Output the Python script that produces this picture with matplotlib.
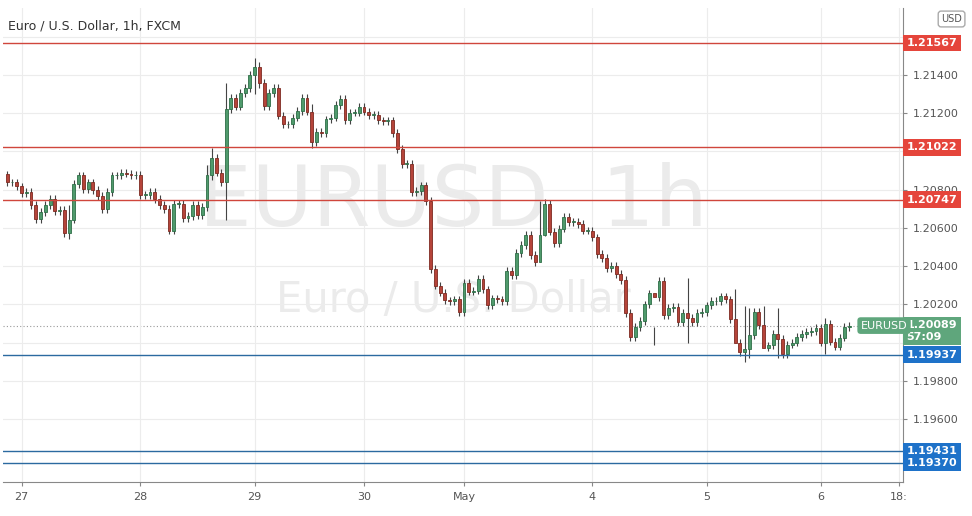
import matplotlib.pyplot as plt
import numpy as np

# hourly closes, EUR/USD
closes = [
    1.20838, 1.20838, 1.20817, 1.20781, 1.20786, 1.20720, 1.20648, 1.20684, 1.20720, 1.20750,
    1.20689, 1.20694, 1.20571, 1.20643, 1.20828, 1.20874, 1.20802, 1.20838, 1.20797, 1.20766,
    1.20699, 1.20786, 1.20874, 1.20874, 1.20889, 1.20884, 1.20874, 1.20879, 1.20771, 1.20771,
    1.20786, 1.20750, 1.20720, 1.20699, 1.20586, 1.20725, 1.20725, 1.20653, 1.20663, 1.20720,
    1.20668, 1.20709, 1.20874, 1.20966, 1.20889, 1.20838, 1.21223, 1.21280, 1.21234,
    1.21306, 1.21331, 1.21398, 1.21444, 1.21357, 1.21239, 1.21306, 1.21331, 1.21187, 1.21141,
    1.21141, 1.21177, 1.21213, 1.21280, 1.21208, 1.21049, 1.21100, 1.21095, 1.21167, 1.21177,
    1.21244, 1.21275, 1.21162, 1.21203, 1.21203, 1.21234, 1.21208, 1.21192, 1.21192, 1.21162,
    1.21157, 1.21162, 1.21095, 1.21013, 1.20935, 1.20935, 1.20786, 1.20792, 1.20822, 1.20740,
    1.20386, 1.20298, 1.20262, 1.20221, 1.20216, 1.20226,
    1.20159, 1.20314, 1.20267, 1.20272, 1.20334, 1.20278, 1.20195, 1.20231, 1.20226, 1.20216,
    1.20375, 1.20355, 1.20468, 1.20509, 1.20565, 1.20457, 1.20421, 1.20565, 1.20725, 1.20581,
    1.20519, 1.20596, 1.20658, 1.20632, 1.20632, 1.20622, 1.20586, 1.20586, 1.20550, 1.20463,
    1.20442, 1.20391, 1.20401, 1.20360, 1.20329, 1.20154, 1.20031, 1.20082, 1.20113, 1.20200,
    1.20257, 1.20236, 1.20324, 1.20144, 1.20180, 1.20185, 1.20108,
    1.20154, 1.20129, 1.20108, 1.20154, 1.20159, 1.20195, 1.20216, 1.20216, 1.20242, 1.20226,
    1.20123, 1.20000, 1.19949, 1.19969, 1.20041, 1.20159, 1.20093, 1.19974, 1.19985, 1.20046,
    1.20021, 1.19938, 1.19990, 1.20000, 1.20031, 1.20046, 1.20057, 1.20062, 1.20077, 1.20000,
    1.20098, 1.20005, 1.19979, 1.20026, 1.20082, 1.20089,
]
first_open = 1.20880
# notable long wicks: index -> (high, low)
long_wicks = {
    13: (1.20720, 1.20540), 42: (1.20930, 1.20690), 43: (1.21020, 1.20850),
    46: (1.21360, 1.20640), 52: (1.21490, 1.21300), 53: (1.21470, 1.21330),
    64: (1.21250, 1.21020), 113: (1.20750, 1.20560), 112: (1.20740, 1.20540),
    136: (1.20080, 1.19990), 143: (1.20340, 1.20000), 153: (1.20280, 1.20110),
    155: (1.20190, 1.19900), 156: (1.20180, 1.19920), 159: (1.20190, 1.20040),
    162: (1.20180, 1.19920), 172: (1.20130, 1.19940),
}
res_levels = [1.21567, 1.21022, 1.20747]
sup_levels = [1.19937, 1.19431, 1.19370]
last_price = 1.20089
day_labels = ["27", "28", "29", "30", "May", "4", "5", "6", "18:"]
day_pos = [3, 28, 52, 75, 96, 123, 147, 171, 187.5]

UP, DN = "#4f9a6c", "#b5443a"
UP_E, DN_E = "#2e6e47", "#7d2a22"

fig = plt.figure(figsize=(9.72, 5.16), dpi=100)
ax = fig.add_axes([3 / 972, 1 - 482 / 516, 900 / 972, 474 / 516])

opens = [first_open] + closes[:-1]
n = len(closes)
for i in range(n):
    o, c = opens[i], closes[i]
    hi, lo = max(o, c) + 0.0002, min(o, c) - 0.0002
    if i in long_wicks:
        hi, lo = long_wicks[i]
    up = c >= o
    col, ec = (UP, UP_E) if up else (DN, DN_E)
    ax.vlines(i, lo, hi, color="#444444", lw=0.8, zorder=2)
    h = max(abs(c - o), 0.00004)
    ax.add_patch(plt.Rectangle((i - 0.3, min(o, c)), 0.6, h, facecolor=col,
                               edgecolor=ec, lw=0.6, zorder=3))

ax.set_xlim(-0.9, 188.3)
ax.set_ylim(1.19271, 1.21750)
yt = np.arange(1.196, 1.2161, 0.002)
ax.set_yticks(yt)
ax.yaxis.tick_right()
# labels under the level boxes are hidden, as on the chart
hidden = {"1.21600", "1.21000", "1.20000"}
ax.set_yticklabels(["" if f"{v:.5f}" in hidden else f"{v:.5f}" for v in yt],
                   fontsize=8, color="#555555")
ax.set_xticks(day_pos)
ax.set_xticklabels(day_labels, fontsize=8, color="#555555")
ax.tick_params(axis="both", length=3, color="#888888", pad=4)
ax.grid(True, color="#ececec", lw=0.8, zorder=0)
for s in ["top", "left"]:
    ax.spines[s].set_visible(False)
ax.spines["right"].set_color("#888888")
ax.spines["bottom"].set_color("#888888")

# watermark
ax.text(0.5, 0.59, "EURUSD  1h", transform=ax.transAxes, ha="center", va="center",
        fontsize=60, color="#ebebeb", zorder=1)
ax.text(0.5, 0.385, "Euro / U.S. Dollar", transform=ax.transAxes, ha="center",
        va="center", fontsize=30, color="#ebebeb", zorder=1)
ax.text(0.006, 0.975, "Euro / U.S. Dollar, 1h, FXCM", transform=ax.transAxes,
        ha="left", va="top", fontsize=9, color="#333333")

lbl_kw = dict(transform=ax.get_yaxis_transform(), ha="left", va="center",
              fontsize=8, fontweight="bold", color="white", zorder=6)
for lv in res_levels:
    ax.axhline(lv, color="#d0463c", lw=1, zorder=4)
    ax.text(1.004, lv, f"{lv:.5f}", bbox=dict(boxstyle="square,pad=0.3", fc="#e5453b",
            ec="none"), **lbl_kw)
for lv in sup_levels:
    ax.axhline(lv, color="#2b6aa0", lw=1, zorder=4)
    ax.text(1.004, lv, f"{lv:.5f}", bbox=dict(boxstyle="square,pad=0.3", fc="#1e72c9",
            ec="none"), **lbl_kw)

ax.axhline(last_price, color="#999999", lw=0.8, ls=(0, (1, 2)), zorder=1)
ax.text(1.004, last_price - 0.00028, f"{last_price:.5f}\n57:09", ma="left",
        bbox=dict(boxstyle="square,pad=0.3", fc="#5fa67c", ec="none"),
        linespacing=1.2, **lbl_kw)
ax.text(0.953, last_price, "EURUSD", transform=ax.get_yaxis_transform(), ha="left",
        va="center", fontsize=8, color="white", zorder=6,
        bbox=dict(boxstyle="round,pad=0.3", fc="#5fa67c", ec="none"))
fig.text(962 / 972, 1 - 19 / 516, "USD", ha="right", va="center", fontsize=7,
         color="#555555", bbox=dict(boxstyle="round,pad=0.3", fc="white", ec="#aaaaaa"))

fig.savefig("out.png", dpi=100)
